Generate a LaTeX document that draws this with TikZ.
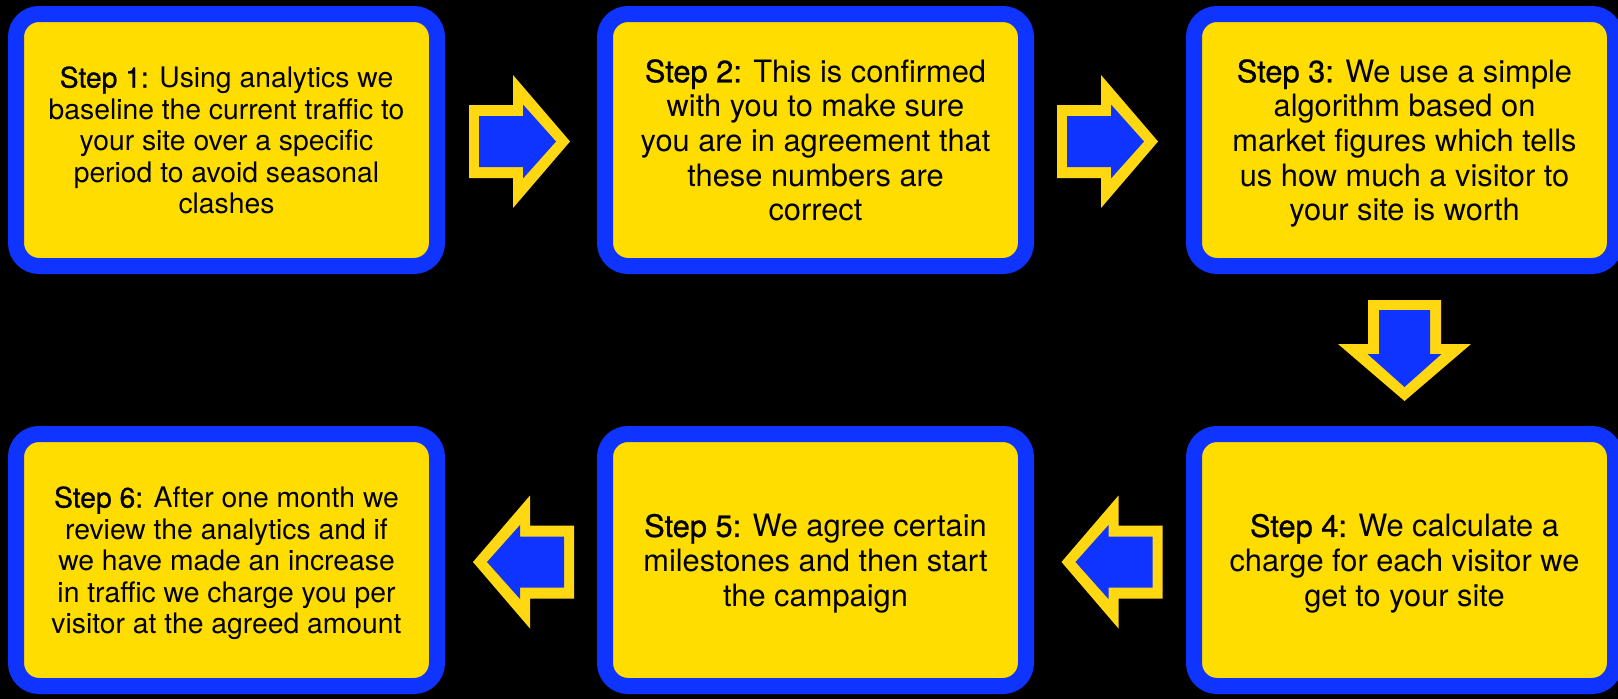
\documentclass[tikz,border=0pt]{standalone}
\usepackage{fontspec}
\setmainfont{TeX Gyre Heros}
\newfontface\stepface{TeX Gyre Heros}[FakeBold=0.8]
\usetikzlibrary{calc}
\definecolor{boxblue}{RGB}{16,52,255}
\definecolor{boxyellow}{RGB}{255,221,0}
\definecolor{arrowyellow}{RGB}{255,216,18}
\tikzset{
  stepbox/.style={rectangle, rounded corners=23pt, draw=boxblue, line width=16pt,
    fill=boxyellow, minimum width=421pt, minimum height=252pt, inner sep=0pt,
    align=center, text=black},
  bigtext/.style={font=\fontsize{30.8pt}{34.6pt}\selectfont},
  smalltext/.style={font=\fontsize{28.3pt}{31.5pt}\selectfont},
  pics/blockarrow/.style={code={
    \fill[arrowyellow] (-50.5,-36.5) -- (-6.5,-36.5) -- (-6.5,-66.5) -- (50.5,0)
      -- (-6.5,66.5) -- (-6.5,36.5) -- (-50.5,36.5) -- cycle;
    \fill[boxblue] (-40.5,-25.5) -- (3.5,-25.5) -- (3.5,-37) -- (36.5,0)
      -- (3.5,37) -- (3.5,25.5) -- (-40.5,25.5) -- cycle;
  }}
}
\begin{document}
\begin{tikzpicture}[x=1pt,y=-1pt]
\useasboundingbox (0,0) rectangle (1618,699);
\clip (0,0) rectangle (1618,699);
\fill[black] (0,0) rectangle (1618,699);

\node[stepbox,smalltext] (b1) at (226.5,140) {{\stepface Step 1:} Using analytics we\\baseline the current traffic to\\your site over a specific\\period to avoid seasonal\\\smash{clashes}};
\node[stepbox,bigtext] (b2) at (815.5,140) {{\stepface Step 2:} This is confirmed\\with you to make sure\\you are in agreement that\\these numbers are\\\smash{correct}};
\node[stepbox,bigtext] (b3) at (1404.5,140) {{\stepface Step 3:} We use a simple\\algorithm based on\\market figures which tells\\us how much a visitor to\\\smash{your site is worth}};
\node[stepbox,bigtext] (b4) at (1404.5,560) {{\stepface Step 4:} We calculate a\\charge for each visitor we\\\smash{get to your site}};
\node[stepbox,bigtext] (b5) at (815.5,560) {{\stepface Step 5:} We agree certain\\milestones and then start\\\smash{the campaign}};
\node[stepbox,smalltext] (b6) at (226.5,560) {{\stepface Step 6:} After one month we\\review the analytics and if\\we have made an increase\\in traffic we charge you per\\\smash{visitor at the agreed amount}};

\pic (a12) at ($(b1.east)!0.5!(b2.west)+(-1.5,1.5)$) {blockarrow};
\pic (a23) at ($(b2.east)!0.5!(b3.west)+(-2.5,1.5)$) {blockarrow};
\pic[rotate=-90] (a34) at ($(b3.south)!0.5!(b4.north)+(0,0.5)$) {blockarrow};
\pic[rotate=180] (a45) at ($(b4.west)!0.5!(b5.east)+(2,2)$) {blockarrow};
\pic[rotate=180] (a56) at ($(b5.west)!0.5!(b6.east)+(2.5,2)$) {blockarrow};
\end{tikzpicture}
\end{document}
